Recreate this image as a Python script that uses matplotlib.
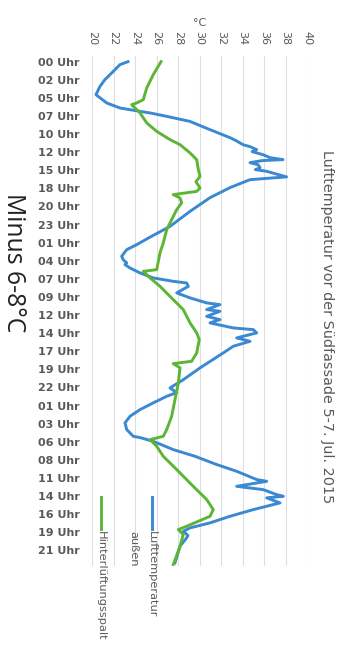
import numpy as np
import matplotlib
matplotlib.use("Agg")
import matplotlib.pyplot as plt

# Stunden seit 5. Juli 00:00 und gemessene Temperaturen (°C)
stunden_aussen = [0.0, 0.42, 1.6, 2.54, 3.49, 4.66, 5.83, 6.54, 7.02, 7.24, 7.72, 8.43,
                  9.6, 10.73, 11.15, 11.72, 12.0, 12.42, 12.7, 13.13, 13.55, 13.83,
                  13.97, 14.26, 14.54, 14.96, 15.24, 15.48, 16.27, 16.44, 16.66, 17.78,
                  19.2, 21.13, 23.25, 24.77, 25.83, 26.54, 27.48, 27.95, 28.41, 28.65,
                  29.12, 29.83, 30.53, 31.01, 31.24, 31.72, 32.65, 33.35, 34.06, 34.3,
                  35.0, 35.24, 35.95, 36.42, 36.88, 37.59, 37.83, 38.29, 39.0, 39.48,
                  40.18, 41.12, 43.23, 44.89, 46.06, 46.72, 47.24, 48.17, 49.12, 50.07,
                  51.0, 51.94, 52.89, 53.07, 53.6, 54.77, 55.71, 56.88, 57.83, 59.0,
                  59.24, 59.95, 60.42, 61.12, 61.36, 61.58, 62.29, 63.24, 64.18, 65.11,
                  65.82, 66.3, 66.9, 67.23, 68.41, 70.76]
temp_aussen = [23.35, 22.6, 21.83, 21.2, 20.74, 20.37, 21.37, 22.6, 24.47, 25.4, 26.95, 29.1,
               30.98, 32.84, 33.4, 34.05, 34.7, 35.32, 34.9, 35.9, 36.56, 37.77,
               35.8, 34.7, 35.44, 35.63, 35.2, 36.25, 38.1, 36.56, 34.7, 32.84,
               30.98, 29.12, 27.26, 25.4, 24.16, 23.23, 22.76, 22.9, 23.23, 23.07,
               23.53, 24.47, 25.7, 27.56, 28.8, 28.96, 27.88, 29.12, 30.67, 31.9,
               30.67, 31.9, 30.67, 31.9, 30.98, 33.14, 35.0, 35.32, 33.46, 34.7,
               33.14, 32.21, 30.05, 28.5, 27.26, 27.88, 26.95, 25.7, 24.47, 23.53,
               23.07, 23.23, 23.84, 24.47, 25.7, 27.56, 29.58, 31.6, 33.46, 35.32,
               36.25, 33.46, 35.93, 37.18, 37.8, 36.25, 37.49, 35.0, 32.84, 30.98,
               29.12, 28.5, 28.93, 28.8, 28.19, 27.72]

stunden_spalt = [0.0, 1.83, 3.71, 5.36, 5.83, 6.07, 6.54, 7.24, 8.65, 9.84, 11.01, 11.72,
                 12.89, 13.83, 15.24, 16.19, 16.94, 17.83, 18.31, 18.77, 19.24, 19.94,
                 20.89, 22.3, 23.71, 25.59, 26.96, 29.36, 29.6, 30.53, 31.72, 33.6,
                 35.0, 36.88, 38.29, 39.24, 41.12, 42.3, 42.63, 43.23, 45.35, 47.71,
                 50.07, 51.94, 52.89, 53.36, 54.3, 55.71, 57.59, 59.95, 61.82, 63.24,
                 64.18, 65.59, 66.06, 66.76, 68.41, 71.0]
temp_spalt = [26.42, 25.7, 25.09, 24.77, 24.16, 23.69, 24.0, 24.47, 25.09, 26.02, 27.26, 28.19,
              29.12, 29.74, 29.89, 30.05, 29.67, 30.05, 29.74, 27.56, 28.19, 28.34,
              27.88, 27.41, 26.95, 26.63, 26.33, 26.02, 24.77, 25.4, 26.33, 27.56,
              28.49, 29.12, 29.74, 29.98, 29.74, 29.27, 27.56, 28.19, 28.03, 27.72,
              27.41, 26.95, 26.63, 25.4, 26.02, 26.63, 27.88, 29.42, 30.67, 31.28,
              30.98, 28.8, 28.03, 28.49, 28.19, 27.56]

zeit_labels = ["00 Uhr", "02 Uhr", "05 Uhr", "07 Uhr", "10 Uhr", "12 Uhr", "15 Uhr",
               "18 Uhr", "20 Uhr", "23 Uhr", "01 Uhr", "04 Uhr", "07 Uhr", "09 Uhr",
               "12 Uhr", "14 Uhr", "17 Uhr", "19 Uhr", "22 Uhr", "01 Uhr", "03 Uhr",
               "06 Uhr", "08 Uhr", "11 Uhr", "14 Uhr", "16 Uhr", "19 Uhr", "21 Uhr"]
temp_ticks = [20, 22, 24, 26, 28, 30, 32, 34, 36, 38, 40]

BLAU = "#3a89d2"
GRUEN = "#5cb534"
GRAU = "#595959"
LW = 2.1

fig = plt.figure(figsize=(3.4, 6.57), dpi=100)
ax = fig.add_axes([92 / 340, 1 - 566 / 657, 215 / 340, 510 / 657])

ax.plot(temp_aussen, stunden_aussen, color=BLAU, lw=LW, solid_joinstyle="round")
ax.plot(temp_spalt, stunden_spalt, color=GRUEN, lw=LW, solid_joinstyle="round")

tick_pos = np.arange(len(zeit_labels)) * 69 / 27
ax.set_yticks(tick_pos)
ax.set_yticklabels(zeit_labels, fontsize=8, fontweight="bold", color=GRAU)
ax.set_ylim(71.2, -0.8)

ax.set_xlim(20, 40)
ax.xaxis.tick_top()
ax.xaxis.set_label_position("top")
ax.set_xticks(temp_ticks)
ax.set_xticklabels([str(t) for t in temp_ticks], rotation=-90, fontsize=8, color=GRAU)
ax.set_xlabel("°C", fontsize=8, color=GRAU, labelpad=3)
ax.tick_params(axis="both", length=0)
ax.tick_params(axis="x", pad=8)
ax.tick_params(axis="y", pad=9)
ax.grid(axis="x", color="#dedede", lw=0.8)
ax.set_axisbelow(True)
for s in ax.spines.values():
    s.set_visible(False)

# Titel rechts, senkrecht
fig.text(327 / 340, 1 - 327 / 657, "Lufttemperatur vor der Südfassade 5-7. Jul. 2015",
         rotation=-90, ha="center", va="center", fontsize=10.4, color=GRAU)

# Legende unten, senkrecht
def legende(x, farbe):
    fig.add_artist(plt.Line2D([x / 340, x / 340], [1 - 497 / 657, 1 - 529 / 657],
                              color=farbe, lw=LW, transform=fig.transFigure))

legende(152, BLAU)
fig.text(152 / 340, 1 - 531 / 657, "Lufttemperatur", rotation=-90, ha="center", va="top",
         fontsize=8.2, color=GRAU)
fig.text(133 / 340, 1 - 531 / 657, "außen", rotation=-90, ha="center", va="top",
         fontsize=8.2, color=GRAU)
legende(101, GRUEN)
fig.text(101 / 340, 1 - 531 / 657, "Hinterlüftungsspalt", rotation=-90, ha="center",
         va="top", fontsize=8.2, color=GRAU)

fig.text(13 / 340, 1 - 193 / 657, "Minus 6-8°C", rotation=-90, ha="center", va="top",
         fontsize=17.8, color="#222222", family="Open Sans")

fig.savefig("out.png", dpi=100, facecolor="white")
